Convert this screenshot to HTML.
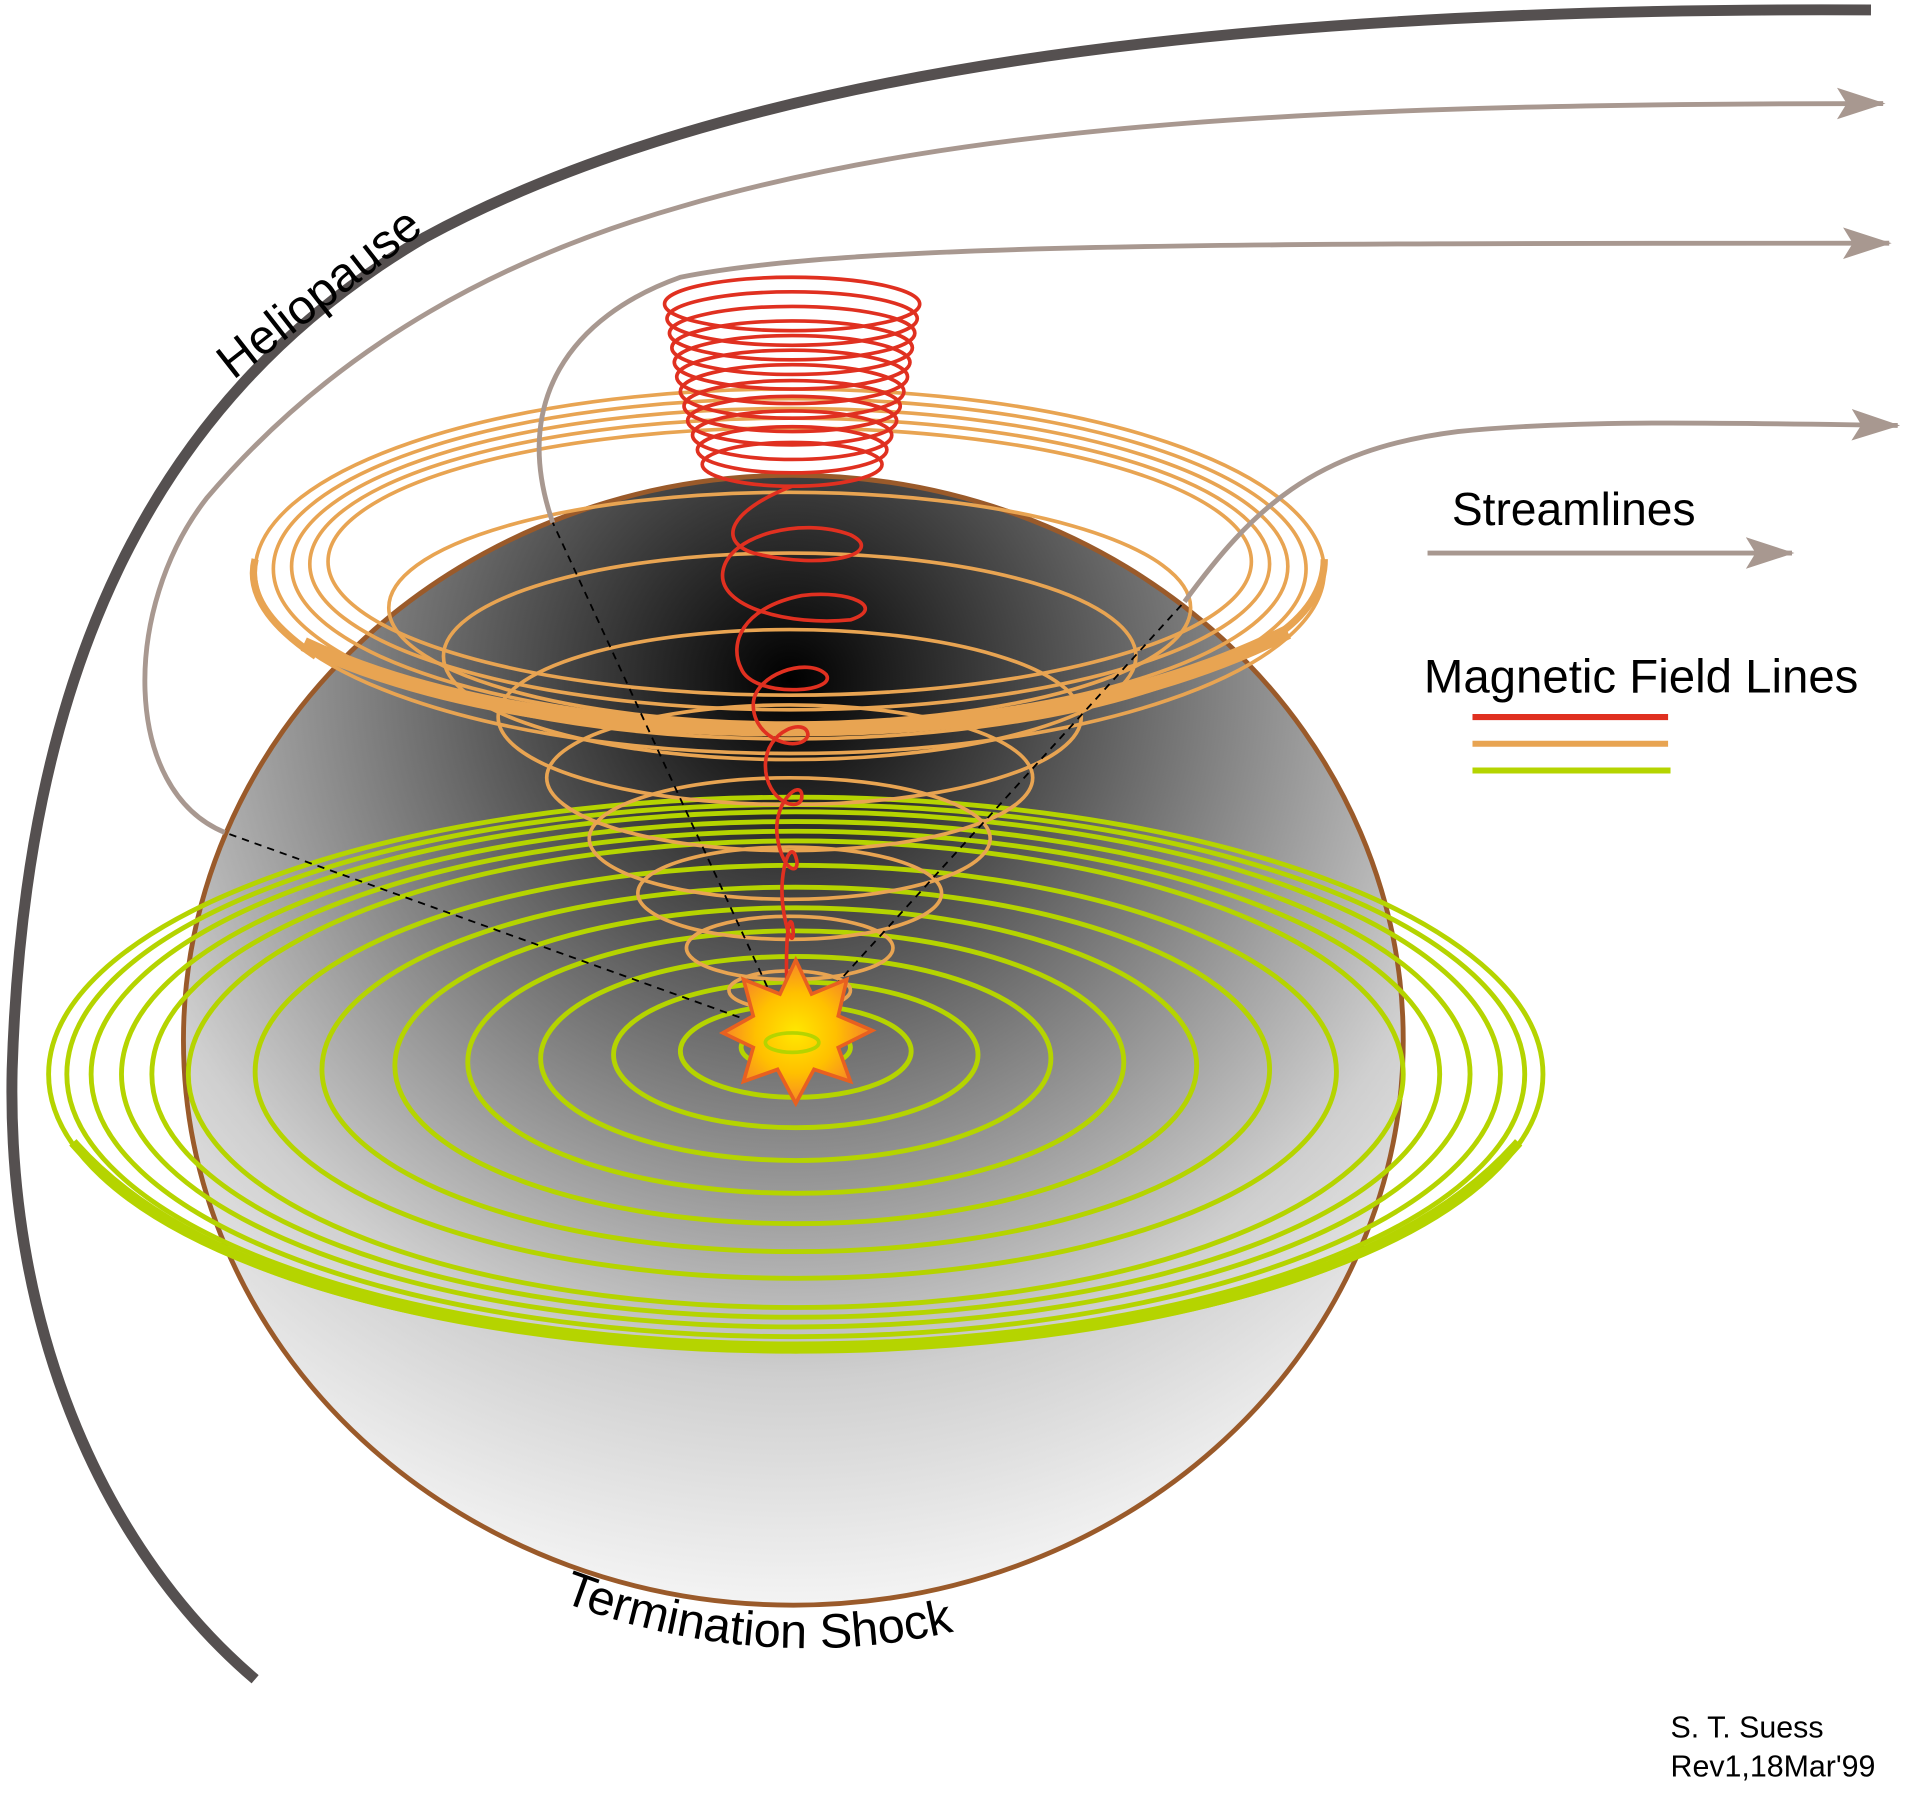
<!DOCTYPE html>
<html><head><meta charset="utf-8"><style>html,body{margin:0;padding:0;background:#fff}svg{display:block}</style></head>
<body>
<svg width="1905" height="1801" viewBox="0 0 1568 1482" xmlns="http://www.w3.org/2000/svg" font-family="Liberation Sans, Arial, sans-serif">
<defs>
<radialGradient id="sg" cx="650" cy="560" r="820" gradientUnits="userSpaceOnUse">
<stop offset="0" stop-color="#000"/><stop offset="0.35" stop-color="#6a6a6a"/><stop offset="0.7" stop-color="#cfcfcf"/><stop offset="1" stop-color="#fff"/>
</radialGradient>
<radialGradient id="sun" cx="655" cy="850" r="55" gradientUnits="userSpaceOnUse">
<stop offset="0" stop-color="#ffe800"/><stop offset="0.6" stop-color="#ffc000"/><stop offset="1" stop-color="#f89020"/>
</radialGradient>
<marker id="ar2" markerWidth="40" markerHeight="26" refX="38" refY="13" orient="auto" markerUnits="userSpaceOnUse"><path d="M0,0 L40,13 L0,26 L8,13z" fill="#a89890"/></marker>
</defs>
<path d="M1540,8 C1000,5 600,60 350,195 C120,330 20,560 10,880 C5,1100 90,1280 210,1382" fill="none" stroke="#555050" stroke-width="9"/>
<text x="0" y="0" font-size="40" transform="translate(192,313) rotate(-38)">Heliopause</text>
<ellipse cx="653" cy="856" rx="502" ry="465" fill="url(#sg)" stroke="#9a5a2a" stroke-width="4"/>
<g fill="none" stroke="#b5d400" stroke-width="4">
<ellipse cx="655" cy="862" rx="45" ry="18"/>
<ellipse cx="655" cy="865" rx="95" ry="38"/>
<ellipse cx="655" cy="868" rx="150" ry="60"/>
<ellipse cx="655" cy="871" rx="210" ry="84"/>
<ellipse cx="655" cy="874" rx="270" ry="108"/>
<ellipse cx="655" cy="877" rx="330" ry="130"/>
<ellipse cx="655" cy="880" rx="390" ry="150"/>
<ellipse cx="655" cy="882" rx="445" ry="170"/>
<ellipse cx="655" cy="884" rx="500" ry="192"/>
<ellipse cx="655" cy="884" rx="530" ry="200"/>
<ellipse cx="655" cy="884" rx="555" ry="208"/>
<ellipse cx="655" cy="884" rx="580" ry="216"/>
<ellipse cx="655" cy="884" rx="600" ry="222"/>
<ellipse cx="655" cy="884" rx="615" ry="228"/>
</g>
<path d="M60,940 Q200,1100 655,1110 Q1110,1100 1250,940" fill="none" stroke="#b5d400" stroke-width="8"/>
<g fill="none" stroke="#e8a452" stroke-width="3">
<ellipse cx="650" cy="470" rx="440" ry="150"/>
<ellipse cx="650" cy="468" rx="425" ry="140"/>
<ellipse cx="650" cy="466" rx="410" ry="130"/>
<ellipse cx="650" cy="464" rx="395" ry="120"/>
<ellipse cx="650" cy="462" rx="380" ry="110"/>
<ellipse cx="650" cy="500" rx="330" ry="95"/>
<ellipse cx="650" cy="540" rx="285" ry="85"/>
<ellipse cx="650" cy="590" rx="240" ry="72"/>
<ellipse cx="650" cy="640" rx="200" ry="60"/>
<ellipse cx="650" cy="690" rx="165" ry="50"/>
<ellipse cx="650" cy="735" rx="125" ry="38"/>
<ellipse cx="650" cy="780" rx="85" ry="26"/>
<ellipse cx="650" cy="815" rx="50" ry="16"/>
</g>
<path d="M250,530 Q400,600 650,600 Q900,600 1060,520" fill="none" stroke="#e8a452" stroke-width="12"/>
<path d="M210,460 Q200,500 260,540 M1090,460 Q1090,500 1040,530" fill="none" stroke="#e8a452" stroke-width="6"/>
<g fill="none" stroke="#e03020" stroke-width="3">
<ellipse cx="652" cy="250" rx="105" ry="22"/><ellipse cx="652" cy="262" rx="103" ry="22"/><ellipse cx="652" cy="274" rx="101" ry="22"/><ellipse cx="652" cy="286" rx="99" ry="22"/><ellipse cx="652" cy="298" rx="97" ry="22"/><ellipse cx="652" cy="310" rx="95" ry="22"/><ellipse cx="652" cy="322" rx="92" ry="22"/><ellipse cx="652" cy="334" rx="89" ry="21"/><ellipse cx="652" cy="346" rx="86" ry="20"/><ellipse cx="652" cy="358" rx="82" ry="20"/><ellipse cx="652" cy="370" rx="78" ry="19"/><ellipse cx="652" cy="382" rx="74" ry="18"/>
<path d="M652,400 C600,420 590,445 620,455 C680,470 730,455 700,440 C660,425 600,440 595,470 C590,500 650,515 700,510 C730,500 700,485 660,490 C610,500 600,530 610,550 C620,575 690,570 680,555 C665,540 620,555 620,580 C620,610 660,620 665,605 C665,590 630,600 630,630 C630,660 660,670 660,655 C660,640 635,660 640,690 C645,720 660,720 655,705 C650,690 640,720 645,750 C650,780 655,775 652,760 C648,750 645,790 650,850"/>
</g>
<g fill="none" stroke="#a89890" stroke-width="4">
<path d="M185,685 C100,650 100,500 170,410 C280,280 420,210 560,170 C800,100 1100,85 1550,85" marker-end="url(#ar2)"/>
<path d="M455,430 C420,330 470,260 560,228 C700,200 1000,200 1555,200" marker-end="url(#ar2)"/>
<path d="M975,495 C1030,420 1080,370 1200,355 C1300,345 1420,348 1562,350" marker-end="url(#ar2)"/>
<path d="M1175,455 L1475,455" marker-end="url(#ar2)"/>
</g>
<g stroke="#000" stroke-width="1.5" stroke-dasharray="6,5" fill="none">
<path d="M650,852 L185,685"/><path d="M650,852 L455,430"/><path d="M650,852 L975,495"/>
</g>
<polygon points="655,790 668,818 697,806 690,836 718,848 690,862 700,890 670,880 655,908 640,880 612,890 620,862 595,850 620,836 612,806 642,818" fill="url(#sun)" stroke="#e86020" stroke-width="3"/>
<ellipse cx="652" cy="858" rx="22" ry="8" fill="none" stroke="#b5d400" stroke-width="3"/>
<text x="1195" y="432" font-size="38">Streamlines</text>
<text x="1172" y="570" font-size="39">Magnetic Field Lines</text>
<line x1="1212" y1="590" x2="1373" y2="590" stroke="#e03020" stroke-width="5"/>
<line x1="1212" y1="612" x2="1373" y2="612" stroke="#e8a452" stroke-width="5"/>
<line x1="1212" y1="634" x2="1375" y2="634" stroke="#b5d400" stroke-width="5"/>
<path id="ts" d="M462,1318 Q640,1385 815,1335" fill="none"/>
<text font-size="40"><textPath href="#ts">Termination Shock</textPath></text>
<text x="1375" y="1430" font-size="25">S. T. Suess</text>
<text x="1375" y="1462" font-size="25">Rev1,18Mar'99</text>
</svg>
</body></html>
